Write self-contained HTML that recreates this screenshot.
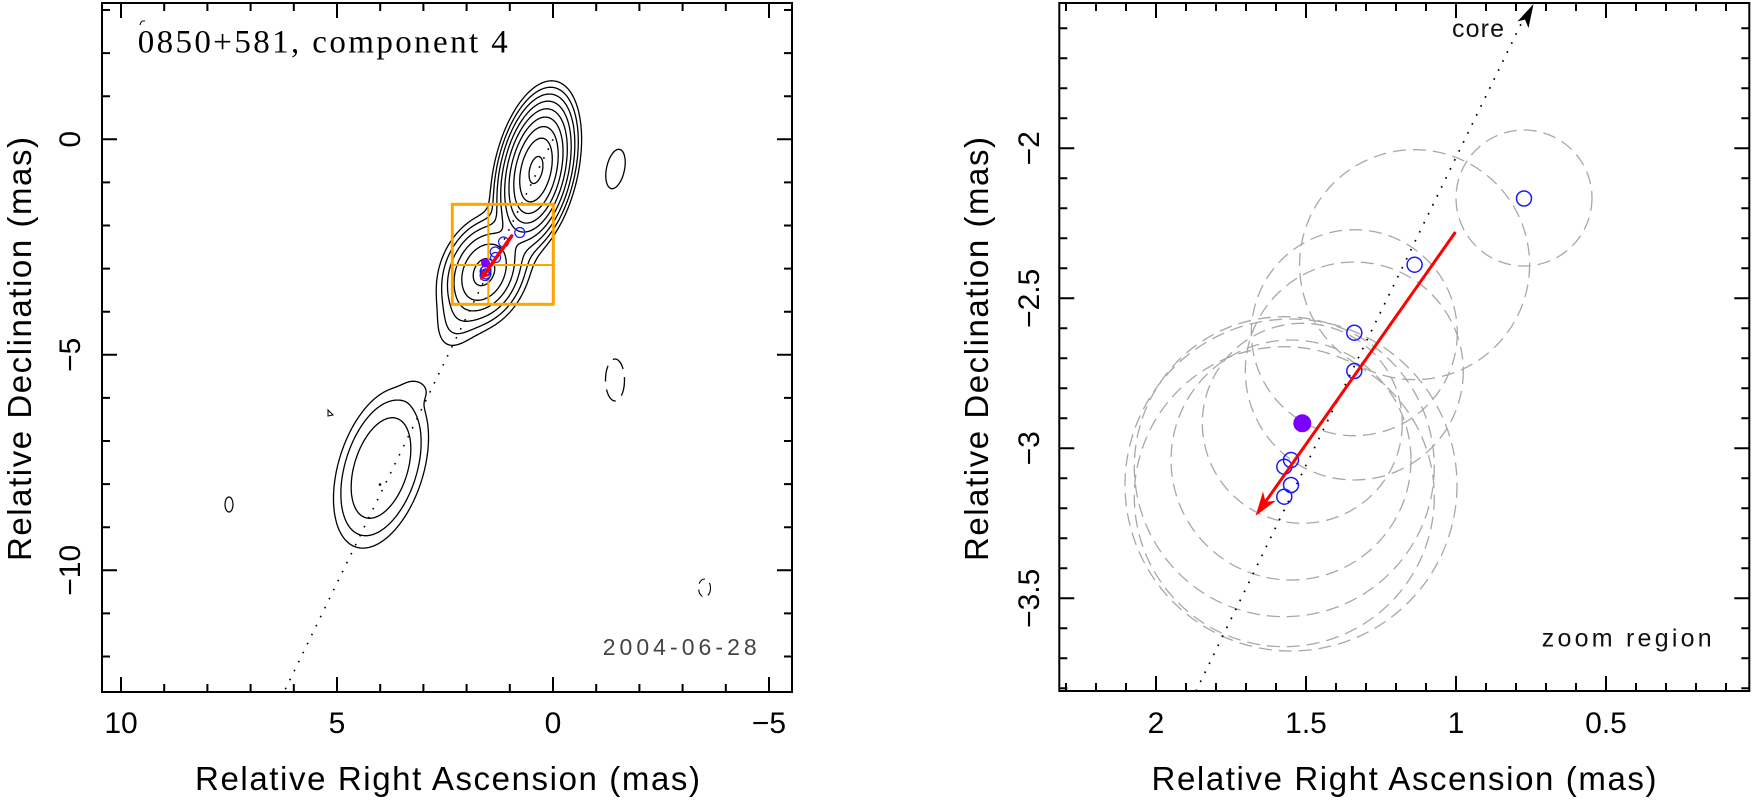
<!DOCTYPE html>
<html><head><meta charset="utf-8">
<style>
html,body{margin:0;padding:0;background:#fff;}
svg{display:block;}
text{font-family:"Liberation Sans",sans-serif;fill:#000;}
</style></head><body>
<svg id="svg" width="1753" height="811" viewBox="0 0 1753 811" xmlns="http://www.w3.org/2000/svg">
<defs>
<clipPath id="clipL"><rect x="102" y="3" width="690" height="689"/></clipPath>
<clipPath id="clipR"><rect x="1059.3" y="3" width="690" height="688"/></clipPath>
</defs>
<rect width="1753" height="811" fill="#fff"/>

<!-- ================= LEFT PANEL ================= -->
<g clip-path="url(#clipL)">
  <path id="cont" fill="none" stroke="#000" stroke-width="1.3" stroke-linecap="round" stroke-linejoin="round"/>
  <!-- islands -->
  <ellipse cx="615.5" cy="169" rx="9" ry="20" transform="rotate(12 615.5 169)" fill="none" stroke="#000" stroke-width="1.3"/>
  <ellipse cx="615" cy="380" rx="9.5" ry="21" fill="none" stroke="#000" stroke-width="1.3" stroke-dasharray="16 8"/>
  <ellipse cx="229" cy="504.5" rx="4" ry="7.5" fill="none" stroke="#000" stroke-width="1.2"/>
  <path d="M328 410 L333 415 L328 416 Z" fill="none" stroke="#000" stroke-width="1"/>
  <ellipse cx="704.5" cy="588" rx="6" ry="9" fill="none" stroke="#000" stroke-width="1.1" stroke-dasharray="8 6"/>
  <path d="M140 25 Q141 20 145 21" fill="none" stroke="#000" stroke-width="1"/>
  <circle cx="380" cy="484.5" r="1.3" fill="#000"/>
  <!-- dotted jet line -->
  <line x1="553" y1="139.3" x2="284" y2="692" stroke="#000" stroke-width="1.6" stroke-dasharray="1.6 8.4"/>
  <!-- orange zoom box -->
  <rect x="452.3" y="204.3" width="101" height="100" fill="none" stroke="#ffa500" stroke-width="3"/>
  <line x1="488.3" y1="204.3" x2="488.3" y2="304.3" stroke="#ffa500" stroke-width="2"/>
  <line x1="452.3" y1="265" x2="553.3" y2="265" stroke="#ffa500" stroke-width="2"/>
  <!-- blue markers -->
  <g fill="none" stroke="#1a1aff" stroke-width="1.2">
    <circle cx="519.8" cy="232.5" r="5"/>
    <circle cx="503.6" cy="242" r="5"/>
    <circle cx="495.2" cy="252" r="5"/>
    <circle cx="495.6" cy="257.5" r="5"/>
    <circle cx="486" cy="270.3" r="5"/>
    <circle cx="485.1" cy="271.2" r="5"/>
    <circle cx="486" cy="273.9" r="5"/>
    <circle cx="485.1" cy="275.5" r="5"/>
  </g>
  <circle cx="485.5" cy="263" r="4.5" fill="#7b00ff"/>
  <line x1="511.7" y1="236" x2="484" y2="274.8" stroke="#ff0000" stroke-width="3.5" stroke-linecap="round"/>
  <polygon points="480,280 482.1,270.5 488.6,275.1" fill="#ff0000"/>
  <text x="602.7" y="655" font-size="23" textLength="154" lengthAdjust="spacing" style="fill:#444">2004-06-28</text>
</g>
<!-- left frame -->
<rect x="102" y="3" width="690" height="689" fill="none" stroke="#000" stroke-width="2"/>
<path fill="none" stroke="#000" stroke-width="2" d="
M121 692v-15M164.2 692v-8M207.4 692v-8M250.6 692v-8M293.8 692v-8M337 692v-15M380.2 692v-8M423.4 692v-8M466.6 692v-8M509.8 692v-8M553 692v-15M596.2 692v-8M639.4 692v-8M682.6 692v-8M725.8 692v-8M769 692v-15
M121 3v15M164.2 3v8M207.4 3v8M250.6 3v8M293.8 3v8M337 3v15M380.2 3v8M423.4 3v8M466.6 3v8M509.8 3v8M553 3v15M596.2 3v8M639.4 3v8M682.6 3v8M725.8 3v8M769 3v15
M102 10h8M102 53.1h8M102 96.2h8M102 139.3h15M102 182.4h8M102 225.5h8M102 268.6h8M102 311.7h8M102 354.8h15M102 397.9h8M102 441h8M102 484.1h8M102 527.2h8M102 570.3h15M102 613.4h8M102 656.5h8
M792 10h-8M792 53.1h-8M792 96.2h-8M792 139.3h-15M792 182.4h-8M792 225.5h-8M792 268.6h-8M792 311.7h-8M792 354.8h-15M792 397.9h-8M792 441h-8M792 484.1h-8M792 527.2h-8M792 570.3h-15M792 613.4h-8M792 656.5h-8"/>
<!-- left tick labels -->
<g font-size="30" text-anchor="middle">
  <text x="121" y="733">10</text>
  <text x="337" y="733">5</text>
  <text x="553" y="733">0</text>
  <text x="769" y="733">−5</text>
  <text transform="translate(80,139.3) rotate(-90)">0</text>
  <text transform="translate(80,354.8) rotate(-90)">−5</text>
  <text transform="translate(80,570.3) rotate(-90)">−10</text>
</g>
<text x="195" y="790" font-size="33" textLength="505" lengthAdjust="spacing">Relative Right Ascension (mas)</text>
<text transform="translate(31,561) rotate(-90)" font-size="33" textLength="424" lengthAdjust="spacing">Relative Declination (mas)</text>
<text x="137.7" y="52.7" font-size="33" textLength="370" lengthAdjust="spacing" style="font-family:'Liberation Serif',serif;">0850+581, component 4</text>

<!-- ================= RIGHT PANEL ================= -->
<g clip-path="url(#clipR)">
  <g fill="none" stroke="#a8a8a8" stroke-width="1.3" stroke-dasharray="13 7">
    <circle cx="1524" cy="198" r="68"/>
    <circle cx="1414.6" cy="264.7" r="115"/>
    <circle cx="1354.3" cy="332.7" r="103"/>
    <circle cx="1354.3" cy="371" r="109"/>
    <circle cx="1302.3" cy="423.3" r="100"/>
    <circle cx="1291" cy="485" r="166"/>
    <circle cx="1284.3" cy="496.7" r="150"/>
    <circle cx="1291" cy="460" r="120"/>
    <circle cx="1284.3" cy="466.7" r="150"/>
  </g>
  <line x1="1196" y1="691" x2="1522" y2="22" stroke="#000" stroke-width="1.7" stroke-dasharray="1.7 8.3"/>
  <polygon points="1533.5,4 1528.5,28 1525,19.5 1517.5,21.5" fill="#000"/>
  <g fill="none" stroke="#1a1aff" stroke-width="1.5">
    <circle cx="1524" cy="198.5" r="7.5"/>
    <circle cx="1414.6" cy="264.7" r="7.5"/>
    <circle cx="1354.3" cy="332.7" r="7.5"/>
    <circle cx="1354.3" cy="371" r="7.5"/>
    <circle cx="1291" cy="460" r="7.5"/>
    <circle cx="1284.3" cy="466.7" r="7.5"/>
    <circle cx="1291" cy="485" r="7.5"/>
    <circle cx="1284.3" cy="496.7" r="7.5"/>
  </g>
  <circle cx="1302.3" cy="423.3" r="9" fill="#7b00ff"/>
  <line x1="1455.5" y1="232" x2="1265.5" y2="501.8" stroke="#ff0000" stroke-width="3"/>
  <polygon points="1255.7,515.7 1263,491.5 1265.5,501.8 1276,500.7" fill="#ff0000"/>
  <text x="1452" y="37" font-size="25" textLength="52" lengthAdjust="spacing" style="fill:#111">core</text>
  <text x="1541.7" y="646.7" font-size="25" textLength="170" lengthAdjust="spacing" style="fill:#111">zoom region</text>
</g>
<rect x="1059.3" y="3" width="690" height="688" fill="none" stroke="#000" stroke-width="2"/>
<path fill="none" stroke="#000" stroke-width="2" d="
M1066 691v-8M1096 691v-8M1126 691v-8M1156 691v-15M1186 691v-8M1216 691v-8M1246 691v-8M1276 691v-8M1306 691v-15M1336 691v-8M1366 691v-8M1396 691v-8M1426 691v-8M1456 691v-15M1486 691v-8M1516 691v-8M1546 691v-8M1576 691v-8M1606 691v-15M1636 691v-8M1666 691v-8M1696 691v-8M1726 691v-8
M1066 3v8M1096 3v8M1126 3v8M1156 3v15M1186 3v8M1216 3v8M1246 3v8M1276 3v8M1306 3v15M1336 3v8M1366 3v8M1396 3v8M1426 3v8M1456 3v15M1486 3v8M1516 3v8M1546 3v8M1576 3v8M1606 3v15M1636 3v8M1666 3v8M1696 3v8M1726 3v8
M1059.3 28.3h8M1059.3 58.3h8M1059.3 88.3h8M1059.3 118.3h8M1059.3 148.3h15M1059.3 178.3h8M1059.3 208.3h8M1059.3 238.3h8M1059.3 268.3h8M1059.3 298.3h15M1059.3 328.3h8M1059.3 358.3h8M1059.3 388.3h8M1059.3 418.3h8M1059.3 448.3h15M1059.3 478.3h8M1059.3 508.3h8M1059.3 538.3h8M1059.3 568.3h8M1059.3 598.3h15M1059.3 628.3h8M1059.3 658.3h8M1059.3 688.3h8
M1749.3 28.3h-8M1749.3 58.3h-8M1749.3 88.3h-8M1749.3 118.3h-8M1749.3 148.3h-15M1749.3 178.3h-8M1749.3 208.3h-8M1749.3 238.3h-8M1749.3 268.3h-8M1749.3 298.3h-15M1749.3 328.3h-8M1749.3 358.3h-8M1749.3 388.3h-8M1749.3 418.3h-8M1749.3 448.3h-15M1749.3 478.3h-8M1749.3 508.3h-8M1749.3 538.3h-8M1749.3 568.3h-8M1749.3 598.3h-15M1749.3 628.3h-8M1749.3 658.3h-8M1749.3 688.3h-8"/>
<g font-size="30" text-anchor="middle">
  <text x="1156" y="733">2</text>
  <text x="1306" y="733">1.5</text>
  <text x="1456" y="733">1</text>
  <text x="1606" y="733">0.5</text>
  <text transform="translate(1039,148.3) rotate(-90)">−2</text>
  <text transform="translate(1039,298.3) rotate(-90)">−2.5</text>
  <text transform="translate(1039,448.3) rotate(-90)">−3</text>
  <text transform="translate(1039,598.3) rotate(-90)">−3.5</text>
</g>
<text x="1151.5" y="790" font-size="33" textLength="505" lengthAdjust="spacing">Relative Right Ascension (mas)</text>
<text transform="translate(988,561) rotate(-90)" font-size="33" textLength="424" lengthAdjust="spacing">Relative Declination (mas)</text>
</svg>
<script>
(function(){
/* type, cx, cy, A, su, sv, ux, uy, param
   type 1: A*exp(-k*(sqrt(1+q^2)-1)), param=k
   type 0: A*exp(-0.5*q^p), param=p */
var C=[
 [1,536,170,300,91,42,-0.22,0.975,13.8],
 [1,484,272,40,62,44,-0.40,0.917,8.9],
 [0,458,320,1.8,22,13,-0.40,0.917,2],
 [0,381,468,7.5,47.5,24.3,-0.30,0.954,2.5],
 [0,418,389,0.8,8,10,-0.30,0.954,2]
];
function f(x,y){var s=0;for(var k=0;k<C.length;k++){var c=C[k],dx=x-c[1],dy=y-c[2],du=dx*c[6]+dy*c[7],dv=-dx*c[7]+dy*c[6];
 var q2=du*du/(c[4]*c[4])+dv*dv/(c[5]*c[5]);
 if(c[0]===1){s+=c[3]*Math.exp(-c[8]*(Math.sqrt(1+q2)-1));}
 else{s+=c[3]*Math.exp(-0.5*Math.pow(q2,c[8]/2));}
}return s;}
var x0=300,y0=40,h=1,nx=361,ny=561;
var g=new Float32Array(nx*ny);
for(var j=0;j<ny;j++)for(var i=0;i<nx;i++)g[j*nx+i]=f(x0+i*h,y0+j*h);
var Ls=[1,2,4,8,16,32,64,128,256],d=[];
function seg(p,q){d.push('M'+p[0].toFixed(1)+' '+p[1].toFixed(1)+'L'+q[0].toFixed(1)+' '+q[1].toFixed(1));}
for(var l=0;l<Ls.length;l++){var L=Ls[l];
 for(var j=0;j<ny-1;j++){for(var i=0;i<nx-1;i++){
  var a=g[j*nx+i],b=g[j*nx+i+1],c=g[(j+1)*nx+i+1],e=g[(j+1)*nx+i];
  var idx=(a>L?8:0)|(b>L?4:0)|(c>L?2:0)|(e>L?1:0);
  if(idx===0||idx===15)continue;
  var x=x0+i*h,y=y0+j*h;
  var T=[x+h*(L-a)/(b-a),y],R=[x+h,y+h*(L-b)/(c-b)],B=[x+h*(L-e)/(c-e),y+h],F=[x,y+h*(L-a)/(e-a)];
  switch(idx){
   case 1:case 14:seg(F,B);break;
   case 2:case 13:seg(B,R);break;
   case 3:case 12:seg(F,R);break;
   case 4:case 11:seg(T,R);break;
   case 5:seg(F,T);seg(B,R);break;
   case 6:case 9:seg(T,B);break;
   case 7:case 8:seg(F,T);break;
   case 10:seg(T,R);seg(F,B);break;
  }
 }}
}
document.getElementById('cont').setAttribute('d',d.join(''));
})();
</script>
</body></html>
